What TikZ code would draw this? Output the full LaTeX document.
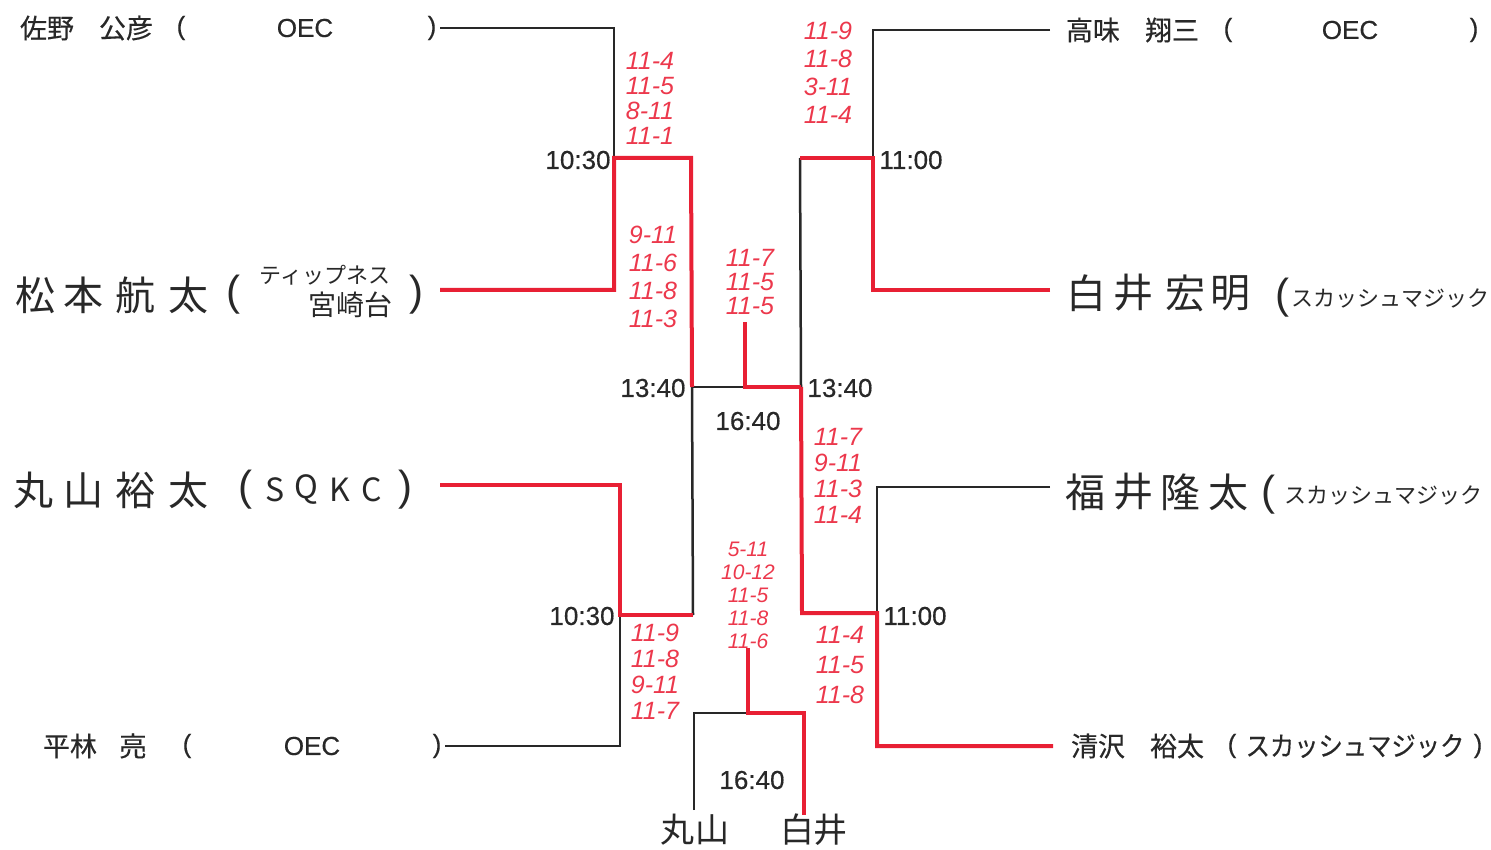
\documentclass[tikz,border=0pt]{standalone}
\usepackage{fontspec}
\usepackage{graphicx}
\setmainfont{Liberation Sans}
\newfontfamily\jp{Noto Sans CJK JP}
\newfontfamily\jpm[FakeBold=0.4]{Noto Sans CJK JP}
\newfontfamily\medsans[FakeBold=0.4]{Liberation Sans}
\definecolor{winred}{RGB}{232,32,52}
\definecolor{scorered}{RGB}{236,56,76}
\definecolor{ink}{RGB}{40,40,40}
\begin{document}
\begin{tikzpicture}[x=1pt,y=-1pt,
  bline/.style={line width=2.5pt, ink, line cap=butt},
  rline/.style={line width=4pt, winred, line cap=butt, line join=miter, xshift=-1pt, yshift=1pt},
  lab/.style={inner sep=0pt, text=ink, font=\medsans\fontsize{26}{28}\selectfont},
  jlab/.style={inner sep=0pt, text=ink, font=\jpm\fontsize{27}{30}\selectfont},
  hand/.style={inner sep=0pt, text=ink, font=\jp\fontsize{40}{44}\selectfont},
  handsm/.style={inner sep=0pt, text=ink, font=\jp\fontsize{#1}{#1}\selectfont},
  handsm/.default=22,
  handpar/.style={inner sep=0pt, text=ink, font=\fontsize{42}{44}\selectfont},
  score/.style={inner sep=0pt, text=scorered, align=center, font=\itshape\fontsize{25}{#1}\selectfont},
  score/.default=26,
  time/.style={inner sep=0pt, text=ink, font=\medsans\fontsize{26}{28}\selectfont},
]
\useasboundingbox (0,0) rectangle (1491,850);

% ---- coordinates ----
\coordinate (a1) at (440,28);  \coordinate (a2) at (614,28);
\coordinate (aj) at (614,158); \coordinate (b2) at (614,290); \coordinate (b1) at (440,290);
\coordinate (aw) at (691,158); \coordinate (ls) at (692,387); \coordinate (cw) at (693,615);
\coordinate (c1) at (440,485); \coordinate (c2) at (620,485);
\coordinate (cj) at (620,615); \coordinate (d2) at (620,746); \coordinate (d1) at (445,746);
\coordinate (e1) at (1050,30); \coordinate (e2) at (873,30);
\coordinate (ej) at (873,158); \coordinate (f2) at (873,290); \coordinate (f1) at (1050,290);
\coordinate (ew) at (800,158); \coordinate (rs) at (801,387); \coordinate (gw) at (802,613);
\coordinate (g1) at (1050,487); \coordinate (g2) at (877,487);
\coordinate (gj) at (877,613); \coordinate (h2) at (877,746); \coordinate (h1) at (1053,746);
\coordinate (fs) at (745,322); \coordinate (fc) at (745,387);
\coordinate (m1) at (694,810); \coordinate (m2) at (694,713);
\coordinate (m3) at (804,713); \coordinate (m4) at (804,815);
\coordinate (bs) at (748,648); \coordinate (bc) at (748,713);

% ---- black bracket ----
\draw[bline] (a1) -- (a2) -- (b2) -- (b1);
\draw[bline] (aj) -- (aw);
\draw[bline] (aw) -- (ls) -- (cw);
\draw[bline] (c1) -- (c2) -- (d2) -- (d1);
\draw[bline] (cj) -- (cw);
\draw[bline] (ls) -- (rs);
\draw[bline] (e1) -- (e2) -- (f2) -- (f1);
\draw[bline] (ej) -- (ew);
\draw[bline] (ew) -- (rs) -- (gw);
\draw[bline] (g1) -- (g2) -- (h2) -- (h1);
\draw[bline] (gj) -- (gw);
\draw[bline] (m1) -- (m2) -- (m3) -- (m4);

% ---- red winner paths ----
\draw[rline] (b1) -- (b2) -- (aj) -- (aw) -- (ls);
\draw[rline] (f1) -- (f2) -- (ej) -- (ew);
\draw[rline] (c1) -- (c2) -- (cj) -- (cw);
\draw[rline] (h1) -- (h2) -- (gj) -- (gw) -- (rs);
\draw[rline] (fs) -- (fc) -- (rs);
\draw[rline] (bs) -- (bc) -- (m3) -- (m4);

% ---- printed names ----
\node[jlab] (p1a) at (47,28) {佐野};
\node[jlab] (p1b) at (126,28) {公彦};
\node[lab]  (p1c) at (181,28) {(};
\node[lab]  (p1d) at (305,28) {OEC};
\node[lab]  (p1e) at (432,28) {)};

\node[jlab] (p2a) at (1093,30) {高味};
\node[jlab] (p2b) at (1172,30) {翔三};
\node[lab]  (p2c) at (1228,30) {(};
\node[lab]  (p2d) at (1350,30) {OEC};
\node[lab]  (p2e) at (1474,30) {)};

\node[jlab] (p3a) at (70,746) {平林};
\node[jlab] (p3b) at (133,746) {亮};
\node[lab]  (p3c) at (187,746) {(};
\node[lab]  (p3d) at (312,746) {OEC};
\node[lab]  (p3e) at (437,746) {)};

\node[jlab] (p4a) at (1098,746) {清沢};
\node[jlab] (p4b) at (1177,746) {裕太};
\node[lab]  (p4c) at (1232,746) {(};
\node[jlab] (p4d) at (1355,746) {\scalebox{0.9}[1]{スカッシュマジック}};
\node[lab]  (p4e) at (1478,746) {)};

% ---- handwritten names ----
\node[hand] (h1a) at (35,295) {松};
\node[hand] (h1b) at (83,295) {本};
\node[hand] (h1c) at (135,295) {航};
\node[hand] (h1d) at (188,295) {太};
\node[handpar] (h1e) at (233,295) {(};
\node[handsm=22] (h1f) at (325,275) {ティップネス};
\node[handsm=28] (h1g) at (350,305) {宮崎台};
\node[handpar] (h1h) at (416,295) {)};

\node[hand] (h2a) at (1086,293) {白};
\node[hand] (h2b) at (1133,293) {井};
\node[hand] (h2c) at (1185,293) {宏};
\node[hand] (h2d) at (1230,293) {明};
\node[handpar] (h2e) at (1282,298) {(};
\node[handsm=22] (h2f) at (1390,298) {スカッシュマジック};

\node[hand] (h3a) at (33,490) {丸};
\node[hand] (h3b) at (83,490) {山};
\node[hand] (h3c) at (135,490) {裕};
\node[hand] (h3d) at (188,490) {太};
\node[handpar] (h3e) at (245,490) {(};
\node[handsm=32] (h3f) at (275,490) {S};
\node[handsm=32] (h3g) at (306,490) {Q};
\node[handsm=32] (h3h) at (340,490) {K};
\node[handsm=32] (h3i) at (372,490) {C};
\node[handpar] (h3j) at (405,490) {)};

\node[hand] (h4a) at (1085,492) {福};
\node[hand] (h4b) at (1133,492) {井};
\node[hand] (h4c) at (1180,492) {隆};
\node[hand] (h4d) at (1228,492) {太};
\node[handpar] (h4e) at (1268,495) {(};
\node[handsm=22] (h4f) at (1383,495) {スカッシュマジック};

\node[handsm=34] (h5a) at (677,830) {丸};
\node[handsm=34] (h5b) at (712,830) {山};
\node[handsm=34] (h5c) at (797,830) {白};
\node[handsm=34] (h5d) at (830,830) {井};

% ---- times ----
\node[time] (t1) at (578,160) {10:30};
\node[time] (t2) at (911,160) {11:00};
\node[time] (t3) at (653,388) {13:40};
\node[time] (t4) at (840,388) {13:40};
\node[time] (t5) at (748,421) {16:40};
\node[time] (t6) at (582,616) {10:30};
\node[time] (t7) at (915,616) {11:00};
\node[time] (t8) at (752,780) {16:40};

% ---- scores ----
\node[score=25] (s1) at (650,98)  {11-4\\11-5\\8-11\\11-1};
\node[score=28] (s2) at (828,73)  {11-9\\11-8\\3-11\\11-4};
\node[score=28] (s3) at (653,277) {9-11\\11-6\\11-8\\11-3};
\node[score=24] (s4) at (750,282) {11-7\\11-5\\11-5};
\node[score=26] (s5) at (838,476) {11-7\\9-11\\11-3\\11-4};
\node[score=26] (s6) at (655,672) {11-9\\11-8\\9-11\\11-7};
\node[score=23, font=\itshape\fontsize{21}{23}\selectfont] (s7) at (748,595) {5-11\\10-12\\11-5\\11-8\\11-6};
\node[score=30] (s8) at (840,665) {11-4\\11-5\\11-8};
\end{tikzpicture}
\end{document}
